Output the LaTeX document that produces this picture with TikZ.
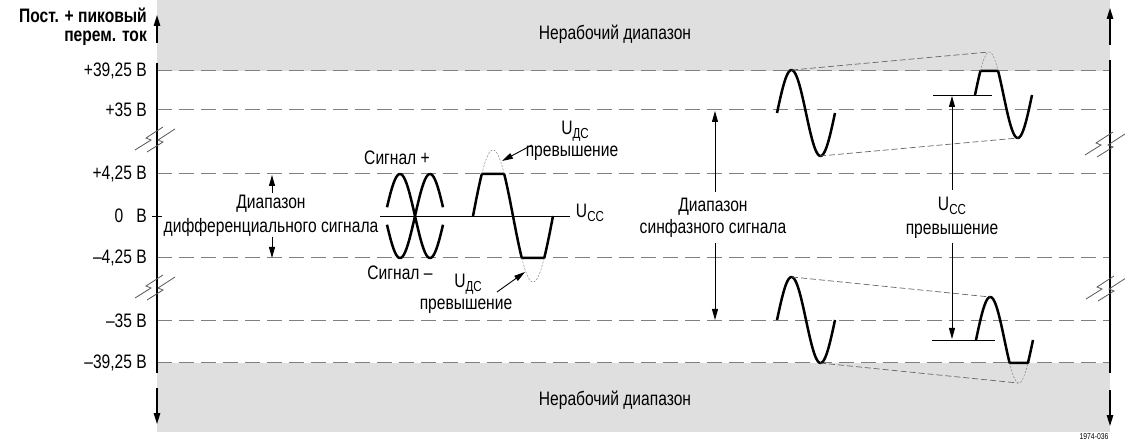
\documentclass[tikz,border=0pt]{standalone}
\usepackage{fontspec}
\setmainfont[FakeStretch=0.8]{Liberation Sans}
\usetikzlibrary{arrows.meta}
\definecolor{band}{HTML}{DFDFDF}
\definecolor{dashc}{HTML}{808080}
\newcommand\lbl{\fontsize{19.5}{21}\selectfont}
\newcommand\sbs[1]{\raisebox{-0.4ex}{\fontsize{14.5}{15}\selectfont #1}}
\begin{document}
\begin{tikzpicture}[x=1pt,y=-1pt,
  level/.style={draw=dashc,line width=1pt,dash pattern=on 15pt off 7pt},
  wave/.style={line width=2.5pt,line join=round},
  over/.style={draw=gray,line width=0.5pt,dash pattern=on 2pt off 1.5pt},
  env/.style={draw=gray!80!black,line width=0.7pt,dash pattern=on 6pt off 3pt},
  arr/.style={line width=0.9pt,-{Triangle[length=11pt,width=6pt]}},
  txt/.style={font=\lbl,inner sep=0pt},
  brk/.style={draw=gray!70!black,line width=0.8pt},
  axisl/.style={line width=1.3pt},
  axarr/.style={line width=1.3pt,-{Triangle[length=11pt,width=6.5pt]}}]
\useasboundingbox (0,0) rectangle (1125,446);
% bands
\fill[band] (157,0) rectangle (1110,71);
\fill[band] (157,363) rectangle (1110,432);
% level lines
\foreach \yy in {71,110,174,258,321,363}
  \draw[level] (157,\yy) -- (1110,\yy);
% axes
\coordinate (lt) at (157,15); \coordinate (lt1) at (157,43);
\coordinate (lm1) at (157,63); \coordinate (lm2) at (157,373);
\coordinate (lb1) at (157,388); \coordinate (lb) at (157,424);
\draw[axarr] (lt1) -- (lt);
\draw[axisl] (lm1) -- (lm2);
\draw[axarr] (lb1) -- (lb);
\coordinate (rt) at (1110,8); \coordinate (rt1) at (1110,45);
\coordinate (rm1) at (1110,60); \coordinate (rm2) at (1110,373);
\coordinate (rb1) at (1110,390); \coordinate (rb) at (1110,426);
\draw[axarr] (rt1) -- (rt);
\draw[axisl] (rm1) -- (rm2);
\draw[axarr] (rb1) -- (rb);
% breaks
\foreach \cx/\cy in {155/139,155/287,1105/144,1106/288}{
  \draw[brk] (\cx-20,\cy+11) -- (\cx-4,\cy+1) -- (\cx-9,\cy-1) -- (\cx+8,\cy-12);
  \draw[brk] (\cx-8,\cy+13) -- (\cx+8,\cy+3) -- (\cx+3,\cy+1) -- (\cx+20,\cy-10);
}
% zero tick and Ucc line
\coordinate (z1) at (152,216); \coordinate (z2) at (162,216);
\draw[line width=0.9pt] (z1) -- (z2);
\coordinate (u1) at (380,216); \coordinate (u2) at (570,216);
\draw[line width=0.9pt] (u1) -- (u2);
% axis labels
\node[txt,anchor=east] at (147,71) {+39,25 В};
\node[txt,anchor=east] at (147,110) {+35 В};
\node[txt,anchor=east] at (147,174) {+4,25 В};
\node[txt,anchor=east] at (147,216) {0\hspace{13pt}В};
\node[txt,anchor=east] at (147,258) {–4,25 В};
\node[txt,anchor=east] at (147,321) {–35 В};
\node[txt,anchor=east] at (147,363) {–39,25 В};
\node[txt,anchor=east,font=\lbl\bfseries] at (147,15) {Пост. + пиковый};
\node[txt,anchor=east,font=\lbl\bfseries] at (147,38) {перем. ток};
% band labels
\node[txt] at (615,34) {Нерабочий диапазон};
\node[txt] at (615,400) {Нерабочий диапазон};
% differential range
\node[txt] (dr1) at (271,204) {Диапазон};
\node[txt] (dr2) at (271,227) {дифференциального сигнала};
\coordinate (da1) at (272,193); \coordinate (da2) at (272,175);
\coordinate (db1) at (272,237); \coordinate (db2) at (272,258);
\draw[arr] (da1) -- (da2);
\draw[arr] (db1) -- (db2);
% differential waves
\draw[wave] plot[domain=387:443,samples=80] (\x,{216-42*cos(6*(\x-400))});
\draw[wave] plot[domain=387:443,samples=80] (\x,{216+42*cos(6*(\x-400))});
\node[txt] at (397,158) {Сигнал +};
\node[txt] at (400,273) {Сигнал –};
% clipped wave
\draw[wave] plot[domain=473:553,samples=161] (\x,{216-max(min(66*sin(4.5*(\x-473)),42),-42)});
\draw[over] plot[domain=481.8:504.2,samples=30] (\x,{216-66*sin(4.5*(\x-473))});
\draw[over] plot[domain=521.8:544.2,samples=30] (\x,{216-66*sin(4.5*(\x-473))});
\node[txt] at (590,213) {U\sbs{CC}};
\node[txt] (ov1) at (575,131) {U\sbs{ДС}};
\node[txt] at (572,153) {превышение};
\coordinate (oa1) at (532,145); \coordinate (oa2) at (502,161);
\draw[arr] (oa1) -- (oa2);
\node[txt] (ov2) at (468,284) {U\sbs{ДС}};
\node[txt] at (466,306) {превышение};
\coordinate (ob1) at (497,292); \coordinate (ob2) at (525,272);
\draw[arr] (ob1) -- (ob2);
% common mode range
\node[txt] at (713,207) {Диапазон};
\node[txt] at (713,228) {синфазного сигнала};
\coordinate (ca1) at (715,192); \coordinate (ca2) at (715,111);
\coordinate (cb1) at (715,243); \coordinate (cb2) at (715,320);
\draw[arr] (ca1) -- (ca2);
\draw[arr] (cb1) -- (cb2);
% common mode waves
\draw[wave] plot[domain=777:835,samples=80] (\x,{113-43*sin(360/58*(\x-777))});
\draw[wave] plot[domain=777:835,samples=80] (\x,{320-43*sin(360/58*(\x-777))});
\draw[wave] plot[domain=975:1032,samples=120] (\x,{95-min(43*sin(360/57*(\x-975)),24)});
\draw[over] plot[domain=980.4:998.1,samples=30] (\x,{95-43*sin(360/57*(\x-975))});
\draw[wave] plot[domain=976:1033,samples=120] (\x,{340-max(43*sin(360/57*(\x-976)),-23)});
\draw[over] plot[domain=1009.6:1027.9,samples=30] (\x,{340-43*sin(360/57*(\x-976))});
% envelopes
\coordinate (e1a) at (792,70); \coordinate (e1b) at (989,52);
\coordinate (e2a) at (820,156); \coordinate (e2b) at (1018,138);
\coordinate (e3a) at (792,277); \coordinate (e3b) at (990,297);
\coordinate (e4a) at (820,363); \coordinate (e4b) at (1018,383);
\draw[env] (e1a) -- (e1b);
\draw[env] (e2a) -- (e2b);
\draw[env] (e3a) -- (e3b);
\draw[env] (e4a) -- (e4b);
% reference lines for Ucc overrange
\coordinate (h1a) at (933,95); \coordinate (h1b) at (992,95);
\coordinate (h2a) at (932,340); \coordinate (h2b) at (995,340);
\draw[line width=0.9pt] (h1a) -- (h1b);
\draw[line width=0.9pt] (h2a) -- (h2b);
\node[txt] at (952,206) {U\sbs{CC}};
\node[txt] at (952,231) {превышение};
\coordinate (va1) at (952,190); \coordinate (va2) at (952,96);
\coordinate (vb1) at (952,243); \coordinate (vb2) at (952,339);
\draw[arr] (va1) -- (va2);
\draw[arr] (vb1) -- (vb2);
\node[font=\fontsize{8.5}{9}\selectfont,inner sep=0pt] at (1094,437) {1974-036};
\end{tikzpicture}
\end{document}
